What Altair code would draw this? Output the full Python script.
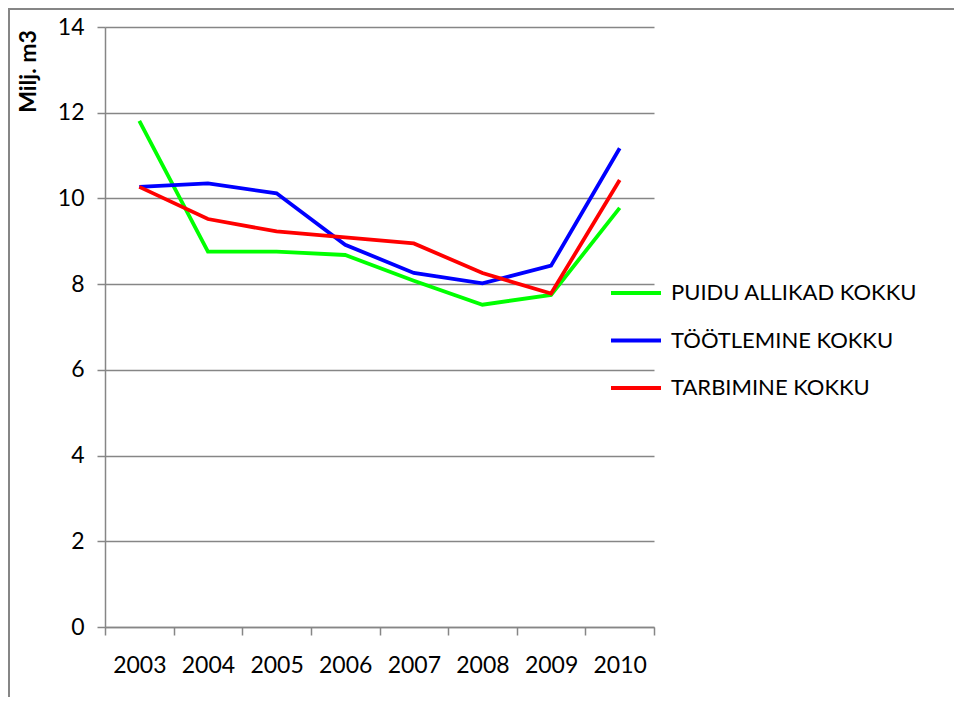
import altair as alt
import pandas as pd

years = [2003, 2004, 2005, 2006, 2007, 2008, 2009, 2010]
series_names = ["PUIDU ALLIKAD KOKKU", "TÖÖTLEMINE KOKKU", "TARBIMINE KOKKU"]
puidu = [11.81, 8.76, 8.76, 8.68, 8.08, 7.52, 7.75, 9.78]
tootlemine = [10.27, 10.35, 10.12, 8.92, 8.26, 8.02, 8.43, 11.17]
tarbimine = [10.27, 9.52, 9.23, 9.09, 8.95, 8.26, 7.78, 10.43]
colors = ["#00FF00", "#0000FF", "#FF0000"]
y_title = "Milj. m3"

rows = []
for name, vals in zip(series_names, [puidu, tootlemine, tarbimine]):
    for yr, v in zip(years, vals):
        rows.append({"year": yr, "value": v, "series": name})
df = pd.DataFrame(rows)

GRAY = "#868686"
FONT = "Lato"
W, H = 549, 600

lines = alt.Chart(df).mark_line(strokeWidth=3.8).encode(
    x=alt.X("year:O",
            scale=alt.Scale(type="band", paddingInner=0, paddingOuter=0),
            axis=alt.Axis(title=None, grid=False, labelAngle=0, tickBand="extent",
                          tickSize=8, labelPadding=19, labelFlush=False,
                          labelOverlap=False)),
    y=alt.Y("value:Q",
            scale=alt.Scale(domain=[0, 14], nice=False),
            axis=alt.Axis(values=list(range(0, 15, 2)), title=y_title,
                          titleFontWeight="bold", titleFontSize=23, titleFont=FONT,
                          titleAngle=-90, titleAlign="center", titleBaseline="middle",
                          titleX=-77, titleY=44, tickSize=8, labelPadding=13,
                          grid=True)),
    color=alt.Color("series:N",
                    scale=alt.Scale(domain=series_names, range=colors),
                    legend=alt.Legend(title=None, orient="none", legendX=504, legendY=239,
                                      symbolType="stroke", symbolStrokeWidth=4,
                                      symbolSize=2500, labelFontSize=22, labelFont=FONT,
                                      labelColor="#000000", labelOffset=8, rowPadding=9.5,
                                      labelLimit=400)),
)

one = pd.DataFrame({"a": [0]})
border_top = alt.Chart(one).mark_rule(color=GRAY, strokeWidth=2).encode(
    x=alt.value(-97), x2=alt.value(W + 310), y=alt.value(-18))
border_left = alt.Chart(one).mark_rule(color=GRAY, strokeWidth=2).encode(
    x=alt.value(-96), y=alt.value(-19), y2=alt.value(H + 80))

chart = alt.layer(border_top, border_left, lines).properties(
    width=W, height=H,
    autosize=alt.AutoSizeParams(type="none"),
    padding={"left": 97, "top": 19, "right": 300, "bottom": 70},
).configure_view(stroke=None).configure_axis(
    domainColor=GRAY, tickColor=GRAY, gridColor=GRAY, gridWidth=1.5,
    domainWidth=1.5, tickWidth=1.5,
    labelFont=FONT, labelFontSize=23, labelColor="#000000",
    titleColor="#000000",
)

chart.save("out.html", embed_options={"renderer": "svg", "actions": False})
